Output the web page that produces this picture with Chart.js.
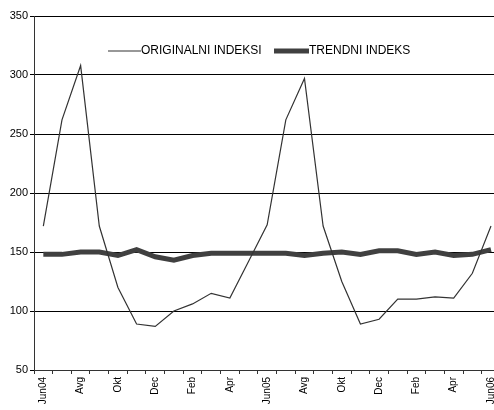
<!DOCTYPE html>
<html><head><meta charset="utf-8">
<script src="https://cdn.jsdelivr.net/npm/chart.js@4/dist/chart.umd.min.js"></script>
<style>html,body{margin:0;padding:0;background:#fff;overflow:hidden}#wrap{position:relative;width:506px;height:410px}</style>
</head><body><div id="wrap"><canvas id="c" width="506" height="410"></canvas></div>
<script>
const categories = ["Jun04","Jul","Avg","Sep","Okt","Nov","Dec","Jan","Feb","Mar","Apr","Maj","Jun05","Jul","Avg","Sep","Okt","Nov","Dec","Jan","Feb","Mar","Apr","Maj","Jun06"];
const originalni = [172,262,308,172,120,89,87,100,106,115,111,142,173,262,297,172,125,89,93,110,110,112,111,132,172];
const trendni = [148,148,150,150,147,152,146,143,147,149,149,149,149,149,147,149,150,148,151,151,148,150,147,148,152];
const seriesNames = ["ORIGINALNI INDEKSI","TRENDNI INDEKS"];
const yTicks = [50,100,150,200,250,300,350];

const legendPlugin = {
  id: 'inlineLegend',
  afterDraw(chart) {
    const ctx = chart.ctx;
    ctx.save();
    ctx.font = '12px "Liberation Sans", Arial, sans-serif';
    ctx.fillStyle = '#000';
    ctx.textBaseline = 'middle';
    const y = 51;
    ctx.strokeStyle = '#333'; ctx.lineWidth = 1.2;
    ctx.beginPath(); ctx.moveTo(108, y); ctx.lineTo(141, y); ctx.stroke();
    ctx.fillText(seriesNames[0], 141, y);
    ctx.strokeStyle = '#404040'; ctx.lineWidth = 5;
    ctx.beginPath(); ctx.moveTo(274, y); ctx.lineTo(309, y); ctx.stroke();
    ctx.fillText(seriesNames[1], 309, y);
    ctx.restore();
  }
};

new Chart(document.getElementById('c'), {
  type: 'line',
  data: {
    labels: categories,
    datasets: [
      {label: seriesNames[0], data: originalni, borderColor: '#333', borderWidth: 1.2, pointRadius: 0, tension: 0, fill: false},
      {label: seriesNames[1], data: trendni, borderColor: '#404040', borderWidth: 5, pointRadius: 0, tension: 0, fill: false}
    ]
  },
  options: {
    responsive: false,
    animation: false,
    devicePixelRatio: 1,
    layout: {padding: {top: 16, right: 0, left: 0, bottom: 0}},
    plugins: {legend: {display: false}, tooltip: {enabled: false}},
    scales: {
      x: {
        offset: true,
        grid: {offset: true, drawOnChartArea: false, drawTicks: true, tickLength: 4, color: '#333'},
        border: {color: '#333', width: 1},
        ticks: {
          autoSkip: false, maxRotation: 90, minRotation: 90, padding: 3,
          color: '#000', font: {family: '"Liberation Sans", Arial, sans-serif', size: 10},
          callback: function(v, i) { return i % 2 === 0 ? categories[i] : ''; }
        },
        afterFit(s) { s.height = 40; }
      },
      y: {
        min: 50, max: 350,
        afterBuildTicks(s) { s.ticks = yTicks.map(v => ({value: v})); },
        grid: {color: '#000', lineWidth: 1, tickLength: 4, drawTicks: true},
        border: {color: '#333', width: 1},
        ticks: {padding: 2, color: '#000', font: {family: '"Liberation Sans Narrow", "Liberation Sans", Arial, sans-serif', size: 11}},
        afterFit(s) { s.width = 34; }
      }
    }
  },
  plugins: [legendPlugin]
});
</script></body></html>
